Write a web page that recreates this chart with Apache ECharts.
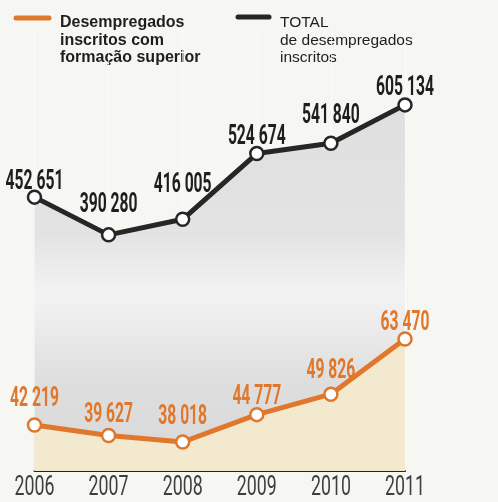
<!DOCTYPE html>
<html><head><meta charset="utf-8">
<script src="https://cdn.jsdelivr.net/npm/echarts@6/dist/echarts.min.js"></script>
<style>html,body{margin:0;padding:0;background:#f6f6f3}#c{width:498px;height:502px}</style>
</head><body><div id="c"></div>
<script>
const years = ['2006', '2007', '2008', '2009', '2010', '2011'];
const totalValues = [452651, 390280, 416005, 524674, 541840, 605134];
const superiorValues = [42219, 39627, 38018, 44777, 49826, 63470];
const legendSuperior = 'Desempregados\ninscritos com\nformação superior';
const legendTotal = 'TOTAL\nde desempregados\ninscritos';

// label vertical nudges (style only)
const totalLabelNudge = [6.5, -7.5, -12.5, 5.5, -5.5, 5.5];
const superiorLabelNudge = [-3.5, 1.5, -2.5, 4.5, -1.5, 6.5];

const ORANGE = '#e0772b';
const BLACK = '#262626';
const COND = "Roboto, 'Liberation Sans', sans-serif";
const VALUE_SCALE = 0.58;
const YEAR_SCALE = 0.635;
const fmt = v => { const s = String(v); return s.slice(0, s.length - 3) + ' ' + s.slice(-3); };

const chart = echarts.init(document.getElementById('c'), null, {renderer: 'canvas'});
const labelBase = {show: true, position: 'top', distance: 0, lineHeight: 28,
  fontFamily: COND, fontWeight: 'bold', fontSize: 27, formatter: p => fmt(p.value)};
chart.setOption({
  backgroundColor: '#f6f6f3',
  animation: false,
  grid: {left: 34, right: 93, top: 30, bottom: 31},
  xAxis: {
    type: 'category', data: years, boundaryGap: false,
    axisLine: {lineStyle: {color: '#222', width: 2}},
    axisTick: {show: false},
    axisLabel: {color: '#3e3e3e', fontFamily: COND, fontSize: 28, lineHeight: 28, margin: 3,
      interval: 0, hideOverlap: false},
    splitLine: {show: true, lineStyle: {color: 'rgba(255,255,255,0.6)', width: 1}}
  },
  yAxis: [
    {type: 'value', min: 0, max: 728900, show: false, splitLine: {show: false}},
    {type: 'value', min: 30850, max: 139820, show: false, splitLine: {show: false}}
  ],
  series: [
    {
      type: 'line', yAxisIndex: 0,
      data: totalValues.map((v, i) => ({value: v, label: {offset: [0, totalLabelNudge[i]]}})),
      symbol: 'circle', symbolSize: 13,
      itemStyle: {color: '#ffffff', borderColor: BLACK, borderWidth: 2.5},
      lineStyle: {color: BLACK, width: 5},
      areaStyle: {
        opacity: 1,
        color: {type: 'linear', x: 0, y: 0, x2: 0, y2: 1, colorStops: [
          {offset: 0, color: '#dfdfdf'}, {offset: 0.35, color: '#e3e3e3'},
          {offset: 0.52, color: '#f3f3f3'}, {offset: 0.75, color: '#dedede'},
          {offset: 1, color: '#d8d8d8'}]}
      },
      label: Object.assign({color: '#1e1e1e'}, labelBase),
      z: 2
    },
    {
      type: 'line', yAxisIndex: 1,
      data: superiorValues.map((v, i) => ({value: v, label: {offset: [0, superiorLabelNudge[i]]}})),
      symbol: 'circle', symbolSize: 13,
      itemStyle: {color: '#ffffff', borderColor: ORANGE, borderWidth: 2.5},
      lineStyle: {color: ORANGE, width: 5},
      areaStyle: {opacity: 1, color: '#f3e9cf'},
      label: Object.assign({color: ORANGE}, labelBase),
      z: 3
    }
  ],
  graphic: [
    {type: 'line', shape: {x1: 16, y1: 18, x2: 49, y2: 18},
      style: {stroke: ORANGE, lineWidth: 5, lineCap: 'round'}},
    {type: 'text', x: 60, y: 14,
      style: {text: legendSuperior, fill: '#1e1e1e', font: "bold 16px 'Liberation Sans', Arial, sans-serif",
        lineHeight: 17.5, verticalAlign: 'top'}},
    {type: 'line', shape: {x1: 238, y1: 17, x2: 269, y2: 17},
      style: {stroke: BLACK, lineWidth: 5, lineCap: 'round'}},
    {type: 'text', x: 280, y: 14,
      style: {text: legendTotal, fill: '#1e1e1e', font: "15.5px 'Liberation Sans', Arial, sans-serif",
        lineHeight: 17.5, verticalAlign: 'top'}}
  ]
});

// condense numeric texts horizontally (the reference uses a condensed typeface)
function condense() {
  const zr = chart.getZr();
  const list = zr.storage.getDisplayList(true);
  let changed = false;
  list.forEach(el => {
    const t = el.style && el.style.text;
    if (typeof t !== 'string' || !/^\d[\d ]*$/.test(t)) return;
    const s = /^\d{4}$/.test(t) ? YEAR_SCALE : VALUE_SCALE;
    if (el.scaleX !== s) { el.scaleX = s; el.originX = 0; el.originY = 0; el.markRedraw(); changed = true; }
  });
  if (changed) zr.refreshImmediately();
}
condense();
chart.on('finished', condense);
</script></body></html>
